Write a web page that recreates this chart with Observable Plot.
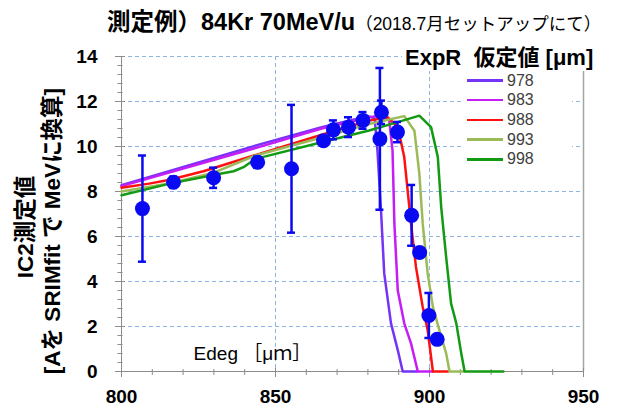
<!DOCTYPE html>
<html><head><meta charset="utf-8">
<script src="https://cdn.jsdelivr.net/npm/d3@7"></script>
<script src="https://cdn.jsdelivr.net/npm/@observablehq/plot@0.6"></script>
<style>
body{margin:0;background:#fff;}
#wrap{position:relative;width:619px;height:410px;overflow:hidden;font-family:"Liberation Sans","Noto Sans CJK JP",sans-serif;}
#wrap svg{position:absolute;left:0;top:0;}
.abs{position:absolute;white-space:pre;}
#title{left:107px;top:8px;line-height:28px;color:#000;}
#title .main{font-weight:bold;font-size:23.5px;}
#title .sub{font-size:17.5px;}
.ylab{font-weight:bold;font-size:22.5px;color:#000;transform:translate(-50%,-50%) rotate(-90deg);line-height:24px;}
#legTitle{left:402px;top:45px;font-weight:bold;font-size:22px;background:#fff;padding:0 3px;line-height:26px;}
#legBox{left:462px;top:71px;width:110px;height:100px;background:#fff;}
.legItem{font-size:16px;color:#404040;line-height:18px;}
</style></head><body><div id="wrap"></div>
<script>
// ---- data ----
const seriesNames = ["978", "983", "988", "993", "998"];
const seriesColors = ["#7433f5", "#c41ef5", "#ff1010", "#9bbb59", "#139a13"];

const x978 = [800, 844, 865, 880, 882.2, 883.1, 884.2, 885.3, 887.5, 889.7, 891.3, 896];
const y978 = [8.28, 10.06, 10.86, 11.35, 11.25, 9.82, 7.31, 4.36, 2.14, 0.95, 0, 0];

const x983 = [800, 844, 865, 880.4, 884.5, 886.9, 888.0, 888.6, 889.7, 891.8, 894.0, 896.2, 901];
const y983 = [8.24, 9.95, 10.8, 11.3, 11.38, 11.2, 9.82, 6.57, 3.6, 2.14, 1.25, 0, 0];

const x988 = [800, 809, 815.7, 826.6, 843, 865, 880.4, 886.4, 889.7, 891.8, 892.9, 894, 895.6, 897.8, 899.4, 901.1, 906];
const y988 = [8.17, 8.35, 8.52, 8.9, 9.6, 10.52, 11.15, 11.3, 10.86, 9.53, 8.05, 6.57, 4.65, 2.87, 1.84, 0, 0];

const x993 = [800, 815, 830, 843.5, 865, 880.4, 891.8, 895.1, 896.7, 897.8, 899.4, 901.1, 903.2, 905.4, 906.5, 911];
const y993 = [8.0, 8.35, 8.84, 9.6, 10.4, 11.0, 11.35, 10.7, 8.79, 6.57, 4.36, 2.87, 1.84, 0.81, 0, 0];

const x998 = [800, 815.7, 832, 836.4, 839.6, 843.5, 865, 880.4, 891.3, 896.7, 900.5, 902.7, 903.8, 905.4, 907, 908.7, 910.3, 911.4, 924];
const y998 = [7.83, 8.35, 8.79, 8.9, 9.08, 9.45, 10.19, 10.71, 11.15, 11.37, 10.86, 9.53, 7.31, 5.09, 3.03, 2.14, 0.81, 0, 0];

// measured points (Edeg, IC2 value, error)
const measX = [806.8, 816.9, 829.9, 844.2, 855.2, 865.6, 868.8, 873.7, 878.4, 884.4, 883.9, 889.6, 894.2, 896.8, 899.8, 902.5];
const measY = [7.24, 8.41, 8.61, 9.30, 9.01, 10.26, 10.74, 10.86, 11.16, 11.52, 10.34, 10.64, 6.94, 5.29, 2.49, 1.43];
const measErr = [2.36, 0.25, 0.45, 0.25, 2.84, 0.2, 0.42, 0.44, 0.37, 0.52, 3.15, 0.45, 1.35, 0.15, 1.0, 0.15];

const xTicks = [800, 850, 900, 950];
const xMinor = d3.range(800, 951, 10);
const yTicks = [0, 2, 4, 6, 8, 10, 12, 14];
const yMinor = d3.range(0, 14.001, 0.4);
const xGrid = [850, 900];

const titleMain = "測定例）84Kr 70MeV/u";
const titleSub = "（2018.7月セットアップにて）";
const yTitle1 = "IC2測定値";
const yTitle2 = "[Aを SRIMfit で MeVに換算]";
const xNote = "Edeg ［μｍ］";
const legendTitle = "ExpR  仮定値 [μm]";

// ---- build ----
const curveXs = [x978, x983, x988, x993, x998];
const curveYs = [y978, y983, y988, y993, y998];
const curves = seriesNames.flatMap((s, i) => curveXs[i].map((x, j) => ({s, x, y: curveYs[i][j]})));
const pts = measX.map((x, i) => ({x, y: measY[i], e: measErr[i]}));

const blue = "#0a0af2";
const gray = "#8c8c8c";
const capHalf = 1.3;

const chart = Plot.plot({
  width: 619, height: 410,
  marginLeft: 121, marginRight: 36, marginTop: 56, marginBottom: 39,
  style: {fontFamily: '"Liberation Sans","Noto Sans CJK JP",sans-serif', background: "transparent"},
  x: {domain: [800, 950]},
  y: {domain: [0, 14]},
  color: {domain: seriesNames, range: seriesColors},
  marks: [
    Plot.gridY(yTicks.filter(d => d > 0), {stroke: "#8db4e2", strokeOpacity: 1, strokeDasharray: "4,3"}),
    Plot.gridX(xGrid, {stroke: "#8db4e2", strokeOpacity: 1, strokeDasharray: "4,3"}),
    Plot.ruleX([950], {stroke: "#a6a6a6", strokeWidth: 1.5}),
    Plot.axisY(yMinor, {tickSize: 5, dx: 1.5, stroke: gray, text: null, label: null}),
    Plot.axisY(yTicks, {tickSize: 10, dx: 4, tickPadding: 18, stroke: gray, fontSize: 19, fontWeight: "bold", fill: "#000", label: null}),
    Plot.axisX(xMinor, {tickSize: 6, dy: -2, stroke: gray, text: null, label: null}),
    Plot.axisX(xTicks, {tickSize: 9, dy: -3, tickPadding: 12, stroke: gray, fontSize: 19, fontWeight: "bold", fill: "#000", label: null}),
    Plot.ruleX([800], {stroke: gray}),
    Plot.ruleY([0], {stroke: gray}),
    Plot.text([xNote], {x: 842.5, y: 0.8, text: d => d, fontSize: 19, fill: "#000", textAnchor: "middle"}),
    Plot.line(curves, {x: "x", y: "y", z: "s", stroke: "s", strokeWidth: 2.5}),
    Plot.ruleX(pts, {x: "x", y1: d => d.y - d.e, y2: d => d.y + d.e, stroke: blue, strokeWidth: 2.5}),
    Plot.ruleY(pts, {y: d => d.y + d.e, x1: d => d.x - capHalf, x2: d => d.x + capHalf, stroke: blue, strokeWidth: 2.5}),
    Plot.ruleY(pts, {y: d => d.y - d.e, x1: d => d.x - capHalf, x2: d => d.x + capHalf, stroke: blue, strokeWidth: 2.5}),
    Plot.dot(pts, {x: "x", y: "y", r: 7.5, fill: blue, stroke: "none"})
  ]
});

const wrap = document.getElementById("wrap");
wrap.appendChild(chart);

function addDiv(id, cls, html, style) {
  const d = document.createElement("div");
  if (id) d.id = id;
  d.className = "abs " + (cls || "");
  d.innerHTML = html;
  if (style) Object.assign(d.style, style);
  wrap.appendChild(d);
  return d;
}
addDiv("title", "", `<span class="main">${titleMain}</span><span class="sub">${titleSub}</span>`);
addDiv(null, "ylab", yTitle1, {left: "26px", top: "227px"});
addDiv(null, "ylab", yTitle2, {left: "53px", top: "231px"});
addDiv("legBox", "", "");
addDiv("legTitle", "", legendTitle);
seriesNames.forEach((s, i) => {
  const top = 80.5 + i * 19.7;
  addDiv(null, "", "", {left: "467px", top: (top - 1.25) + "px", width: "36px", height: "2.5px", background: seriesColors[i]});
  addDiv(null, "legItem", s, {left: "507px", top: (top - 9) + "px"});
});
</script>
</body></html>
